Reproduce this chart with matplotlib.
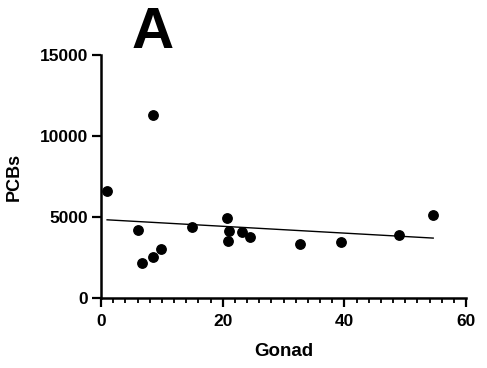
# Scatter of PCBs against gonad value with a least-squares line (panel A)
import matplotlib.pyplot as plt
import numpy as np
from matplotlib.ticker import MultipleLocator

plt.rcParams['font.family'] = ['Liberation Sans', 'DejaVu Sans']
plt.rcParams['font.weight'] = 'bold'

gonad = [1.0, 6.0, 6.7, 8.5, 8.5, 9.9, 15.0, 20.7, 21.1, 20.8,
         23.1, 24.5, 32.7, 39.5, 49.0, 54.6]
pcbs = [6620, 4210, 2160, 11280, 2510, 3000, 4360, 4930, 4150, 3540,
        4050, 3800, 3310, 3470, 3900, 5140]
x_ticks = [0, 20, 40, 60]
y_ticks = [0, 5000, 10000, 15000]

fig = plt.figure(figsize=(4.87, 3.68), dpi=100)
ax = fig.add_axes([0.2074, 0.190, 0.7496, 0.6605])

ax.scatter(gonad, pcbs, s=46, color='black', zorder=3, clip_on=False)

# Linear regression over the data range
slope, intercept = np.polyfit(gonad, pcbs, 1)
fit_x = np.array([min(gonad), max(gonad)])
ax.plot(fit_x, slope * fit_x + intercept, color='black', lw=1.0)

ax.set_xlim(0, 60)
ax.set_ylim(0, 15000)
ax.set_xticks(x_ticks)
ax.set_yticks(y_ticks)
ax.xaxis.set_minor_locator(MultipleLocator(2))

ax.spines[['top', 'right']].set_visible(False)
ax.spines[['left', 'bottom']].set_linewidth(1.8)
ax.tick_params(axis='both', which='major', length=6.5, width=1.6, labelsize=12.5, pad=3)
ax.tick_params(axis='x', which='major', pad=5)
ax.tick_params(axis='x', which='minor', length=3.5, width=1.3)

ax.set_xlabel('Gonad', fontsize=13.5, fontweight='bold')
ax.set_ylabel('PCBs', fontsize=13, fontweight='bold')
ax.xaxis.set_label_coords(0.5, -0.185)
ax.yaxis.set_label_coords(-0.214, 0.5)

fig.text(0.314, 0.985, 'A', fontsize=42, fontweight='bold', ha='center', va='top')

fig.savefig('out.png', dpi=100)
